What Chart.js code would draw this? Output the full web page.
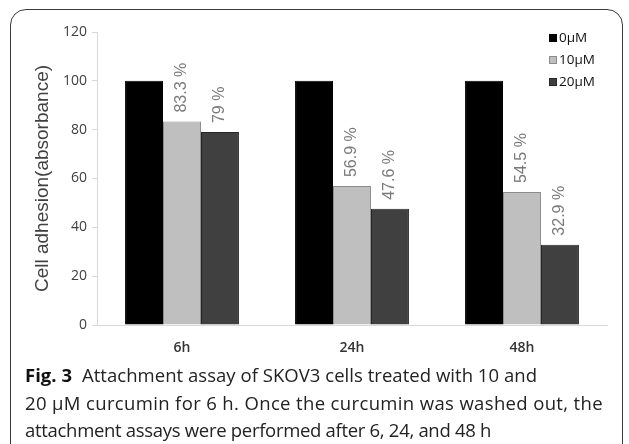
<!DOCTYPE html>
<html>
<head>
<meta charset="utf-8">
<script src="https://cdn.jsdelivr.net/npm/chart.js@4.4.1/dist/chart.umd.min.js"></script>
<style>
  html, body { margin: 0; padding: 0; background: #fff; }
  #wrap { position: relative; width: 629px; height: 444px; overflow: hidden; background: #fff; }
  #frame { position: absolute; left: 10px; top: 9px; width: 613px; height: 470px;
           border: 1.5px solid #3a3a3a; border-radius: 16px; box-sizing: border-box; }
  #c { position: absolute; left: 0; top: 0; }
  #caption { position: absolute; left: 25px; top: 361px; width: 604px;
             font-family: "Open Sans", sans-serif; font-size: 18.5px; line-height: 27.5px;
             color: #222; white-space: nowrap; }
  #caption span.ln { display: inline-block; }
  #caption b { font-weight: 700; color: #111; margin-right: 5px; }
</style>
</head>
<body>
<div id="wrap">
  <div id="frame"></div>
  <canvas id="c" width="629" height="444"></canvas>
  <div id="caption"><span class="ln" data-w="512"><b>Fig. 3</b> Attachment assay of SKOV3 cells treated with 10 and</span><br><span class="ln" data-w="578">20 μM curcumin for 6 h. Once the curcumin was washed out, the</span><br><span class="ln" data-w="466">attachment assays were performed after 6, 24, and 48 h</span></div>
</div>
<script>
const categories = ["6h", "24h", "48h"];
const seriesNames = ["0µM", "10µM", "20µM"];
const values0 = [100, 100, 100];
const values10 = [83.3, 56.9, 54.5];
const values20 = [79, 47.6, 32.9];
const yTicks = [0, 20, 40, 60, 80, 100, 120];
const yTitle = "Cell adhesion(absorbance)";

const fills = ["#000000", "#bfbfbf", "#404040"];
const borders = ["#000000", "#8c8c8c", "#262626"];

function fitCaption() {
  document.querySelectorAll("#caption span.ln").forEach(el => {
    el.style.letterSpacing = "0px";
    const target = parseFloat(el.dataset.w);
    const w = el.getBoundingClientRect().width;
    const n = el.textContent.length;
    el.style.letterSpacing = ((target - w) / n).toFixed(3) + "px";
  });
}
fitCaption();
if (document.fonts && document.fonts.ready) document.fonts.ready.then(fitCaption);

const legendPlugin = {
  id: "customLegend",
  afterDraw(chart) {
    const ctx = chart.ctx;
    ctx.save();
    ctx.font = "13.5px 'Open Sans'";
    ctx.textBaseline = "middle";
    ctx.textAlign = "left";
    chart.data.datasets.forEach((ds, i) => {
      const y = 38 + i * 22;
      ctx.fillStyle = ds.backgroundColor;
      ctx.fillRect(549, y - 4, 8, 8);
      ctx.strokeStyle = ds.borderColor;
      ctx.lineWidth = 1;
      ctx.strokeRect(549.5, y - 3.5, 7, 7);
      ctx.fillStyle = "#111";
      ctx.fillText(ds.label, 559, y);
    });
    ctx.restore();
  }
};

const valueLabelPlugin = {
  id: "valueLabels",
  afterDatasetsDraw(chart) {
    const ctx = chart.ctx;
    ctx.save();
    ctx.font = "16px 'Liberation Sans'";
    ctx.fillStyle = "#7a7a7a";
    ctx.textAlign = "left";
    ctx.textBaseline = "middle";
    chart.data.datasets.forEach((ds, di) => {
      if (di === 0) return;
      const meta = chart.getDatasetMeta(di);
      meta.data.forEach((bar, i) => {
        const txt = ds.data[i] + " %";
        ctx.save();
        ctx.translate(bar.x, bar.y - 9);
        ctx.rotate(-Math.PI / 2);
        ctx.fillText(txt, 0, 0);
        ctx.restore();
      });
    });
    ctx.restore();
  }
};

new Chart(document.getElementById("c"), {
  type: "bar",
  data: {
    labels: categories,
    datasets: [values0, values10, values20].map((v, i) => ({
      label: seriesNames[i],
      data: v,
      backgroundColor: fills[i],
      borderColor: borders[i],
      borderWidth: 1,
      categoryPercentage: 0.67,
      barPercentage: 1.0
    }))
  },
  options: {
    responsive: false,
    animation: false,
    devicePixelRatio: 1,
    layout: { padding: { left: 0, right: 22, top: 32, bottom: 0 } },
    plugins: {
      legend: { display: false },
      tooltip: { enabled: false }
    },
    scales: {
      x: {
        grid: { display: false, drawTicks: false },
        border: { display: true, color: "#d9d9d9", width: 1 },
        ticks: { padding: 15, color: "#333", font: { family: "Open Sans", size: 14, weight: "600" } },
        afterFit(s) { s.height = 119; }
      },
      y: {
        min: 0, max: 120,
        afterBuildTicks(s) { s.ticks = yTicks.map(v => ({ value: v })); },
        grid: { drawOnChartArea: false, tickLength: 5, color: "#d9d9d9" },
        border: { display: true, color: "#d9d9d9", width: 1 },
        ticks: { padding: 5, color: "#404040", font: { family: "Open Sans", size: 14 } },
        title: { display: true, text: yTitle, color: "#404040",
                 font: { family: "Liberation Sans", size: 19 }, padding: { top: 31, bottom: 0 } },
        afterFit(s) { s.width = 97; }
      }
    }
  },
  plugins: [legendPlugin, valueLabelPlugin]
});
</script>
</body>
</html>
